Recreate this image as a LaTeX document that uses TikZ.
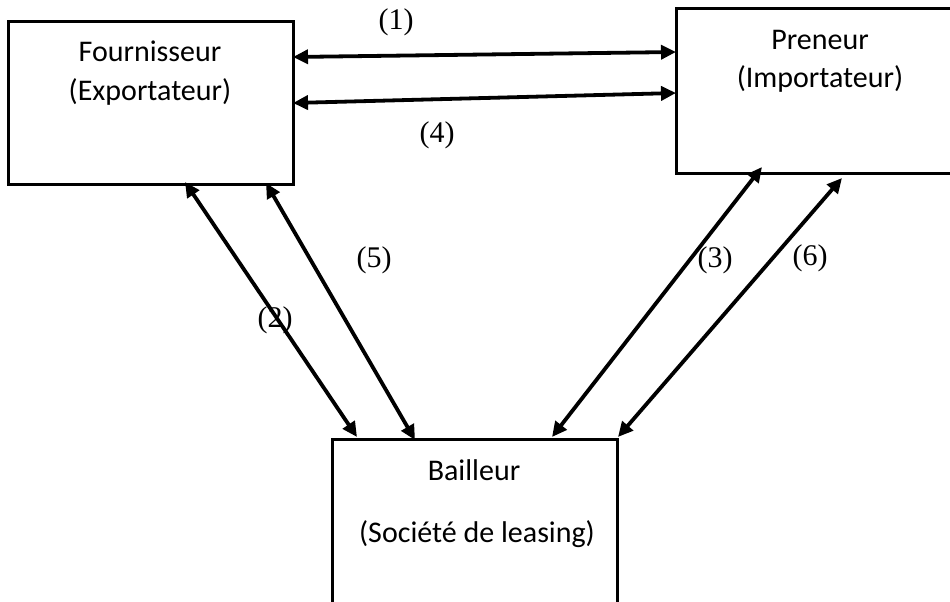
\documentclass[tikz,border=0pt]{standalone}
\usepackage{fontspec}
\setmainfont{Liberation Serif}
\newfontfamily\boxfont{Carlito}
\usetikzlibrary{arrows.meta,calc}
\tikzset{
  boxnode/.style={draw,line width=3pt,minimum width=#1,inner sep=0pt,outer sep=0pt},
  boxtext/.style={font=\boxfont\fontsize{30}{32}\selectfont,anchor=base,inner sep=0pt},
  numlabel/.style={font=\fontsize{30}{32}\selectfont,anchor=base,inner sep=0pt},
  dblarrow/.style={line width=3.8pt,{Triangle[length=15pt,width=14pt]}-{Triangle[length=15pt,width=14pt]}}
}
\begin{document}
\begin{tikzpicture}[x=1pt,y=-1pt]
\useasboundingbox (0,0) rectangle (950,602);
\begin{scope}
\clip (0,0) rectangle (950,602);
\node[boxnode=285pt,minimum height=162pt] (F) at (150.5,103) {};
\node[boxnode=300pt,minimum height=164pt] (P) at (826,91) {};
\node[boxnode=285pt,minimum height=190pt] (B) at (474.5,534) {};
\end{scope}
% texts
\node[boxtext] (Ft1) at (150,62) {Fournisseur};
\node[boxtext] (Ft2) at (150,100) {(Exportateur)};
\node[boxtext] (Pt1) at (820,50) {Preneur};
\node[boxtext] (Pt2) at (820,88) {(Importateur)};
\node[boxtext] (Bt1) at (474,480) {Bailleur};
\node[boxtext] (Bt2) at (477,542) {(Société de leasing)};
% anchor coordinates
\coordinate (F1) at ($(F.north east)+(0,35)$);
\coordinate (F4) at ($(F.north east)+(0,81)$);
\coordinate (P1) at ($(P.north west)+(0,43)$);
\coordinate (P4) at ($(P.north west)+(0,84)$);
\coordinate (F2) at ($(F.south west)+(177,-2)$);
\coordinate (F5) at ($(F.south west)+(258,-1)$);
\coordinate (B2) at ($(B.north west)+(25,-2)$);
\coordinate (B5) at ($(B.north west)+(83,1)$);
\coordinate (B3) at ($(B.north west)+(220,-2)$);
\coordinate (B6) at ($(B.north east)+(1,-2)$);
\coordinate (P3) at ($(P.south west)+(86,-6)$);
\coordinate (P6) at ($(P.south west)+(166,5)$);
% connectors
\draw[dblarrow] (F1) -- (P1);
\draw[dblarrow] (F4) -- (P4);
\draw[dblarrow] (F2) -- (B2);
\draw[dblarrow] (F5) -- (B5);
\draw[dblarrow] (B3) -- (P3);
\draw[dblarrow] (B6) -- (P6);
% labels
\node[numlabel] (L1) at (396,30) {(1)};
\node[numlabel] (L4) at (437,142) {(4)};
\node[numlabel] (L5) at (374,267) {(5)};
\node[numlabel] (L2) at (275,327) {(2)};
\node[numlabel] (L3) at (715,267) {(3)};
\node[numlabel] (L6) at (810,265) {(6)};
\end{tikzpicture}
\end{document}
